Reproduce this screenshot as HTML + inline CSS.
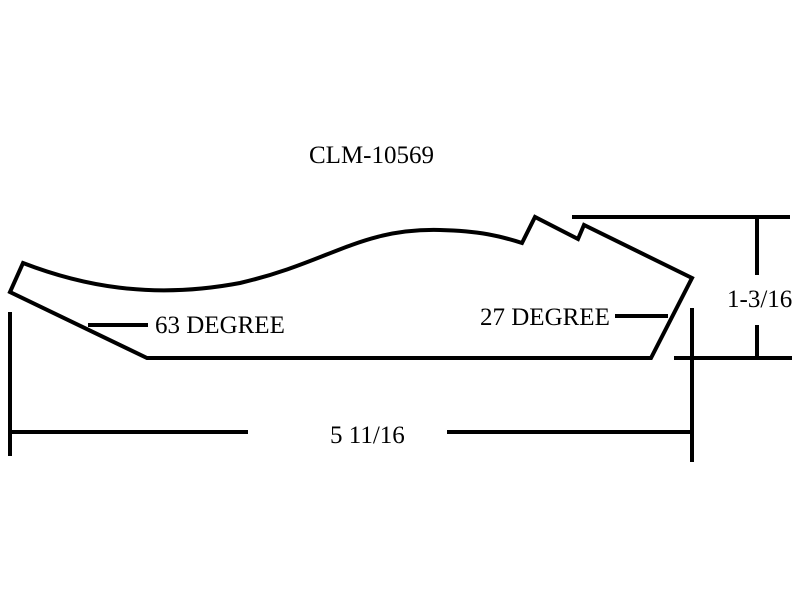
<!DOCTYPE html>
<html><head><style>body{margin:0;background:#fff}svg{display:block}</style></head><body>
<svg width="800" height="600" viewBox="0 0 800 600" xmlns="http://www.w3.org/2000/svg">
<rect width="800" height="600" fill="#fff"/>
<g fill="none" stroke="#000" stroke-width="4" stroke-linejoin="miter">
<path d="M23,263 C80,285 150,300 240,283 C330,262 360,228 440,230 C480,231 500,236 522,243 L535,217 L578,239 L584,225 L692,278 L651,358 L147,358 L10,292 Z"/>
<line x1="572" y1="217" x2="790" y2="217"/>
<line x1="757" y1="217" x2="757" y2="275"/>
<line x1="757" y1="325" x2="757" y2="358"/>
<line x1="674" y1="358" x2="792" y2="358"/>
<line x1="692" y1="308" x2="692" y2="462"/>
<line x1="10" y1="312" x2="10" y2="456"/>
<line x1="10" y1="432" x2="248" y2="432"/>
<line x1="447" y1="432" x2="692" y2="432"/>
<line x1="88" y1="325" x2="148" y2="325"/>
<line x1="615" y1="316" x2="668" y2="316"/>
</g>
<g font-family="Liberation Serif, serif" font-size="25" fill="#000">
<text x="309" y="163">CLM-10569</text>
<text x="155" y="333">63 DEGREE</text>
<text x="480" y="325">27 DEGREE</text>
<text x="727" y="307">1-3/16</text>
<text x="330" y="443">5 11/16</text>
</g>
</svg>
</body></html>
